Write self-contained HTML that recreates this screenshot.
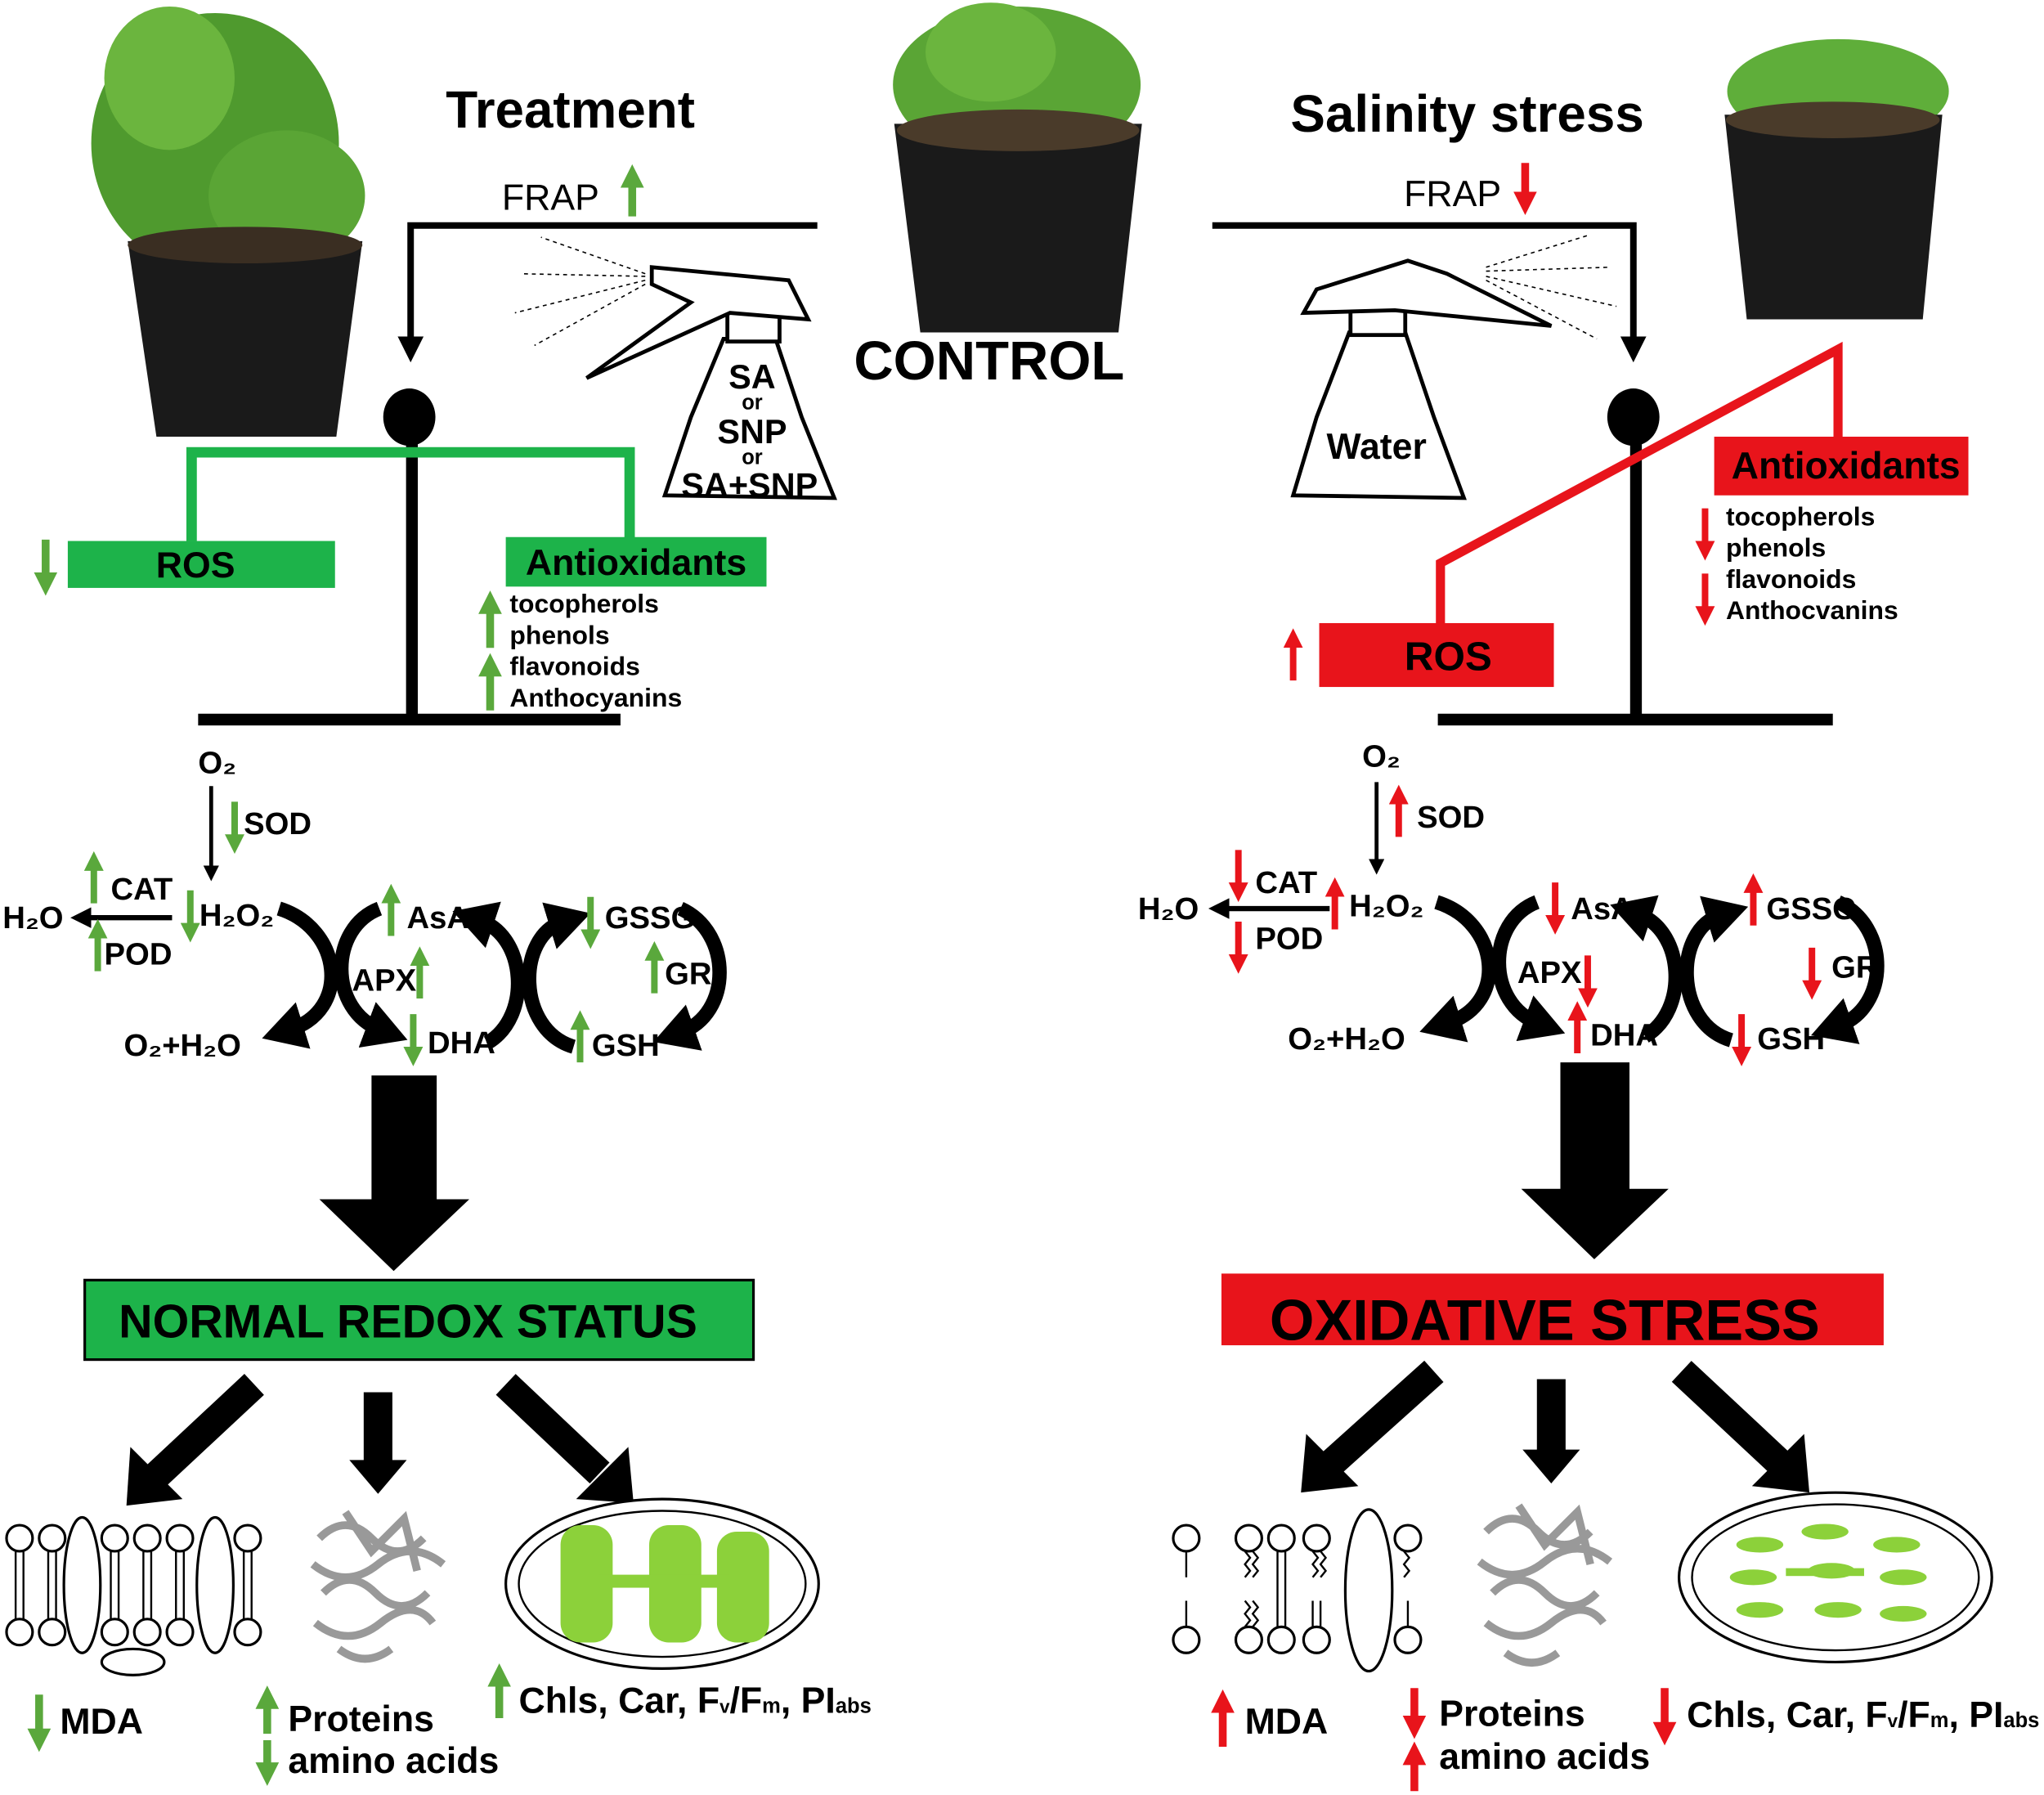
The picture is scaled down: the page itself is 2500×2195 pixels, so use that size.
<!DOCTYPE html>
<html><head><meta charset="utf-8">
<style>
html,body{margin:0;padding:0;background:#fff;}
svg{display:block;}
text{font-family:"Liberation Sans",sans-serif;font-weight:bold;}
</style></head>
<body>
<svg width="2500" height="2195" viewBox="0 0 1568 1377" preserveAspectRatio="none" xmlns="http://www.w3.org/2000/svg">
<defs>
<marker id="ak" markerWidth="4" markerHeight="4" refX="2" refY="2" orient="auto" markerUnits="strokeWidth"><path d="M0,0 L4,2 L0,4 z" fill="#000"/></marker>
<marker id="ab" markerWidth="3" markerHeight="3.4" refX="1" refY="1.7" orient="auto" markerUnits="strokeWidth"><path d="M0,0 L3,1.7 L0,3.4 z" fill="#000"/></marker>
<marker id="ag" markerWidth="3" markerHeight="3" refX="1" refY="1.5" orient="auto" markerUnits="strokeWidth"><path d="M0,0 L3,1.5 L0,3 z" fill="#5aa83c"/></marker>
<marker id="ar" markerWidth="3" markerHeight="3" refX="1" refY="1.5" orient="auto" markerUnits="strokeWidth"><path d="M0,0 L3,1.5 L0,3 z" fill="#e8141b"/></marker>
<g id="cyc" fill="none" stroke="#000" stroke-width="11">
 <path d="M214,697 C262,712 270,775 222,790" marker-end="url(#ab)"/>
 <path d="M291,697 C252,712 252,775 292,790" marker-end="url(#ab)"/>
 <path d="M374,800 C408,780 404,718 368,706" marker-end="url(#ab)"/>
 <path d="M440,803 C396,790 396,718 432,707" marker-end="url(#ab)"/>
 <path d="M522,697 C562,715 562,778 522,792" marker-end="url(#ab)"/>
</g>
<g id="mem" fill="#fff" stroke="#000" stroke-width="2">
</g>
</defs>
<rect width="1568" height="1377" fill="#fff"/>

<!-- Plants -->
<g>
 <ellipse cx="165" cy="110" rx="95" ry="100" fill="#4f9a2e"/>
 <ellipse cx="130" cy="60" rx="50" ry="55" fill="#6bb53e"/>
 <ellipse cx="220" cy="150" rx="60" ry="50" fill="#5aa535"/>
 <path d="M98,185 L278,185 L258,335 L120,335 Z" fill="#1a1a1a"/>
 <ellipse cx="188" cy="188" rx="90" ry="14" fill="#3a2e22"/>
</g>
<g>
 <ellipse cx="780" cy="65" rx="95" ry="60" fill="#5aa535"/>
 <ellipse cx="760" cy="40" rx="50" ry="38" fill="#6bb53e"/>
 <path d="M686,95 L876,95 L858,255 L706,255 Z" fill="#1a1a1a"/>
 <ellipse cx="781" cy="100" rx="93" ry="16" fill="#4a3b2a"/>
</g>
<g>
 <ellipse cx="1410" cy="70" rx="85" ry="40" fill="#5fae3a"/>
 <path d="M1323,88 L1490,88 L1475,245 L1340,245 Z" fill="#1a1a1a"/>
 <ellipse cx="1406" cy="92" rx="82" ry="14" fill="#4a3b2a"/>
</g>

<!-- Titles -->
<text x="342" y="98" font-size="40">Treatment</text>
<text x="990" y="101" font-size="40">Salinity stress</text>
<text x="655" y="291" font-size="42">CONTROL</text>

<!-- Left top connector -->
<text x="385" y="161" font-size="28" style="font-weight:normal">FRAP</text>
<line x1="485" y1="166" x2="485" y2="138" stroke="#5aa83c" stroke-width="6" marker-end="url(#ag)"/>
<polyline points="627,173 315,173 315,268" fill="none" stroke="#000" stroke-width="5" marker-end="url(#ak)"/>

<!-- Right top connector -->
<text x="1077" y="158" font-size="28" style="font-weight:normal">FRAP</text>
<line x1="1170" y1="125" x2="1170" y2="153" stroke="#e8141b" stroke-width="6" marker-end="url(#ar)"/>
<polyline points="930,173 1253,173 1253,268" fill="none" stroke="#000" stroke-width="5" marker-end="url(#ak)"/>

<!-- Spray bottle left -->
<g fill="#fff" stroke="#000" stroke-width="3">
 <path d="M555,260 L530,320 L510,380 L640,382 L615,320 L595,260 Z"/>
 <rect x="558" y="240" width="40" height="22"/>
 <path d="M500,205 L605,215 L620,245 L560,240 L450,290 L530,232 L500,218 Z"/>
</g>
<g stroke="#000" stroke-width="1" stroke-dasharray="3,3">
 <line x1="495" y1="210" x2="415" y2="182"/><line x1="495" y1="212" x2="400" y2="210"/>
 <line x1="495" y1="215" x2="395" y2="240"/><line x1="495" y1="218" x2="410" y2="265"/>
</g>
<text x="577" y="298" font-size="26" text-anchor="middle">SA</text>
<text x="577" y="314" font-size="16" text-anchor="middle">or</text>
<text x="577" y="340" font-size="26" text-anchor="middle">SNP</text>
<text x="577" y="356" font-size="16" text-anchor="middle">or</text>
<text x="575" y="381" font-size="26" text-anchor="middle">SA+SNP</text>

<!-- Spray bottle right -->
<g fill="#fff" stroke="#000" stroke-width="3">
 <path d="M1035,255 L1010,320 L992,380 L1123,382 L1100,320 L1078,255 Z"/>
 <rect x="1036" y="235" width="42" height="22"/>
 <path d="M1080,200 L1010,222 L1000,240 L1070,238 L1190,250 L1110,210 Z"/>
</g>
<g stroke="#000" stroke-width="1" stroke-dasharray="3,3">
 <line x1="1140" y1="205" x2="1220" y2="180"/><line x1="1140" y1="208" x2="1235" y2="205"/>
 <line x1="1140" y1="212" x2="1240" y2="235"/><line x1="1140" y1="215" x2="1225" y2="260"/>
</g>
<text x="1056" y="352" font-size="28" text-anchor="middle">Water</text>

<!-- Left balance -->
<ellipse cx="314" cy="320" rx="20" ry="22" fill="#000"/>
<line x1="316" y1="330" x2="316" y2="552" stroke="#000" stroke-width="9"/>
<line x1="152" y1="552" x2="476" y2="552" stroke="#000" stroke-width="9"/>
<polyline points="147,415 147,347 483,347 483,413" fill="none" stroke="#1db34a" stroke-width="8"/>
<rect x="52" y="415" width="205" height="36" fill="#1db34a"/>
<text x="150" y="443" font-size="28" text-anchor="middle">ROS</text>
<line x1="35" y1="414" x2="35" y2="445" stroke="#5aa83c" stroke-width="6" marker-end="url(#ag)"/>
<rect x="388" y="412" width="200" height="38" fill="#1db34a"/>
<text x="488" y="441" font-size="28" text-anchor="middle">Antioxidants</text>
<g font-size="20"><text x="391" y="470">tocopherols</text><text x="391" y="494">phenols</text><text x="391" y="518">flavonoids</text><text x="391" y="542">Anthocyanins</text></g>
<line x1="376" y1="497" x2="376" y2="465" stroke="#5aa83c" stroke-width="6" marker-end="url(#ag)"/>
<line x1="376" y1="545" x2="376" y2="513" stroke="#5aa83c" stroke-width="6" marker-end="url(#ag)"/>

<!-- Right balance -->
<ellipse cx="1253" cy="320" rx="20" ry="22" fill="#000"/>
<line x1="1255" y1="330" x2="1255" y2="552" stroke="#000" stroke-width="9"/>
<line x1="1103" y1="552" x2="1406" y2="552" stroke="#000" stroke-width="9"/>
<polyline points="1105,480 1105,432 1410,268 1410,337" fill="none" stroke="#e8141b" stroke-width="7"/>
<rect x="1315" y="335" width="195" height="45" fill="#e8141b"/>
<text x="1416" y="367" font-size="29" text-anchor="middle">Antioxidants</text>
<rect x="1012" y="478" width="180" height="49" fill="#e8141b"/>
<text x="1111" y="514" font-size="31" text-anchor="middle">ROS</text>
<line x1="992" y1="522" x2="992" y2="492" stroke="#e8141b" stroke-width="5" marker-end="url(#ar)"/>
<g font-size="20"><text x="1324" y="403">tocopherols</text><text x="1324" y="427">phenols</text><text x="1324" y="451">flavonoids</text><text x="1324" y="475">Anthocvanins</text></g>
<line x1="1308" y1="390" x2="1308" y2="420" stroke="#e8141b" stroke-width="5" marker-end="url(#ar)"/>
<line x1="1308" y1="440" x2="1308" y2="470" stroke="#e8141b" stroke-width="5" marker-end="url(#ar)"/>

<!-- Cycle arcs -->
<use href="#cyc"/>
<use href="#cyc" transform="translate(888,-5)"/>

<!-- Left pathway labels -->
<g font-size="24">
<text x="152" y="593">O₂</text>
<line x1="162" y1="603" x2="162" y2="670" stroke="#000" stroke-width="3" marker-end="url(#ak)"/>
<line x1="180" y1="615" x2="180" y2="645" stroke="#5aa83c" stroke-width="5" marker-end="url(#ag)"/>
<text x="187" y="640">SOD</text>
<line x1="72" y1="693" x2="72" y2="663" stroke="#5aa83c" stroke-width="5" marker-end="url(#ag)"/>
<text x="85" y="690">CAT</text>
<line x1="132" y1="704" x2="62" y2="704" stroke="#000" stroke-width="4" marker-end="url(#ak)"/>
<text x="2" y="712">H₂O</text>
<line x1="75" y1="745" x2="75" y2="715" stroke="#5aa83c" stroke-width="5" marker-end="url(#ag)"/>
<text x="80" y="740">POD</text>
<line x1="146" y1="683" x2="146" y2="713" stroke="#5aa83c" stroke-width="5" marker-end="url(#ag)"/>
<text x="153" y="710">H₂O₂</text>
<text x="95" y="810">O₂+H₂O</text>
<text x="312" y="712">AsA</text>
<line x1="300" y1="718" x2="300" y2="688" stroke="#5aa83c" stroke-width="5" marker-end="url(#ag)"/>
<text x="270" y="760">APX</text>
<line x1="322" y1="766" x2="322" y2="736" stroke="#5aa83c" stroke-width="5" marker-end="url(#ag)"/>
<line x1="317" y1="778" x2="317" y2="808" stroke="#5aa83c" stroke-width="5" marker-end="url(#ag)"/>
<text x="328" y="808">DHA</text>
<line x1="453" y1="688" x2="453" y2="718" stroke="#5aa83c" stroke-width="5" marker-end="url(#ag)"/>
<text x="464" y="712">GSSG</text>
<line x1="502" y1="762" x2="502" y2="732" stroke="#5aa83c" stroke-width="5" marker-end="url(#ag)"/>
<text x="510" y="755">GR</text>
<line x1="445" y1="815" x2="445" y2="785" stroke="#5aa83c" stroke-width="5" marker-end="url(#ag)"/>
<text x="454" y="810">GSH</text>
</g>

<!-- Right pathway labels -->
<g font-size="24">
<text x="1045" y="588">O₂</text>
<line x1="1056" y1="600" x2="1056" y2="665" stroke="#000" stroke-width="3" marker-end="url(#ak)"/>
<line x1="1073" y1="642" x2="1073" y2="612" stroke="#e8141b" stroke-width="5" marker-end="url(#ar)"/>
<text x="1087" y="635">SOD</text>
<line x1="950" y1="652" x2="950" y2="682" stroke="#e8141b" stroke-width="5" marker-end="url(#ar)"/>
<text x="963" y="685">CAT</text>
<line x1="1020" y1="697" x2="935" y2="697" stroke="#000" stroke-width="4" marker-end="url(#ak)"/>
<text x="873" y="705">H₂O</text>
<line x1="950" y1="707" x2="950" y2="737" stroke="#e8141b" stroke-width="5" marker-end="url(#ar)"/>
<text x="963" y="728">POD</text>
<line x1="1024" y1="713" x2="1024" y2="683" stroke="#e8141b" stroke-width="5" marker-end="url(#ar)"/>
<text x="1035" y="703">H₂O₂</text>
<text x="988" y="805">O₂+H₂O</text>
<line x1="1193" y1="677" x2="1193" y2="707" stroke="#e8141b" stroke-width="5" marker-end="url(#ar)"/>
<text x="1205" y="705">AsA</text>
<text x="1164" y="754">APX</text>
<line x1="1218" y1="733" x2="1218" y2="763" stroke="#e8141b" stroke-width="5" marker-end="url(#ar)"/>
<line x1="1210" y1="808" x2="1210" y2="778" stroke="#e8141b" stroke-width="5" marker-end="url(#ar)"/>
<text x="1220" y="802">DHA</text>
<line x1="1345" y1="710" x2="1345" y2="680" stroke="#e8141b" stroke-width="5" marker-end="url(#ar)"/>
<text x="1355" y="705">GSSG</text>
<line x1="1390" y1="727" x2="1390" y2="757" stroke="#e8141b" stroke-width="5" marker-end="url(#ar)"/>
<text x="1405" y="750">GR</text>
<line x1="1336" y1="778" x2="1336" y2="808" stroke="#e8141b" stroke-width="5" marker-end="url(#ar)"/>
<text x="1348" y="805">GSH</text>
</g>

<!-- Big arrows -->
<path d="M285,825 L335,825 L335,920 L360,920 L302,975 L245,920 L285,920 Z" fill="#000"/>
<path d="M1197,815 L1250,815 L1250,912 L1280,912 L1223,966 L1167,912 L1197,912 Z" fill="#000"/>

<!-- Status boxes -->
<rect x="65" y="982" width="513" height="61" fill="#1db34a" stroke="#000" stroke-width="2"/>
<text x="313" y="1026" font-size="36" text-anchor="middle">NORMAL REDOX STATUS</text>
<rect x="937" y="977" width="508" height="55" fill="#e8141b"/>
<text x="1185" y="1028" font-size="44" text-anchor="middle">OXIDATIVE STRESS</text>

<!-- Bottom arrows -->
<g stroke="#000" stroke-width="22" fill="none">
 <line x1="195" y1="1062" x2="120" y2="1132"/>
 <line x1="290" y1="1068" x2="290" y2="1125"/>
 <line x1="388" y1="1062" x2="460" y2="1130"/>
 <line x1="1100" y1="1052" x2="1022" y2="1122"/>
 <line x1="1190" y1="1058" x2="1190" y2="1118"/>
 <line x1="1290" y1="1052" x2="1365" y2="1122"/>
</g>
<g fill="#000">
 <path d="M97,1155 L100,1110 L140,1150 Z"/>
 <path d="M268,1120 L312,1120 L290,1146 Z"/>
 <path d="M486,1153 L482,1110 L442,1150 Z"/>
 <path d="M998,1145 L1002,1100 L1042,1140 Z"/>
 <path d="M1168,1112 L1212,1112 L1190,1138 Z"/>
 <path d="M1388,1145 L1384,1100 L1344,1140 Z"/>
</g>

<!-- Membrane left -->
<g stroke="#000" stroke-width="1.5">
 <line x1="12" y1="1190" x2="12" y2="1242"/><line x1="18" y1="1190" x2="18" y2="1242"/>
 <line x1="37" y1="1190" x2="37" y2="1242"/><line x1="43" y1="1190" x2="43" y2="1242"/>
 <line x1="85" y1="1190" x2="85" y2="1242"/><line x1="91" y1="1190" x2="91" y2="1242"/>
 <line x1="110" y1="1190" x2="110" y2="1242"/><line x1="116" y1="1190" x2="116" y2="1242"/>
 <line x1="135" y1="1190" x2="135" y2="1242"/><line x1="141" y1="1190" x2="141" y2="1242"/>
 <line x1="187" y1="1190" x2="187" y2="1242"/><line x1="193" y1="1190" x2="193" y2="1242"/>
</g>
<g fill="#fff" stroke="#000" stroke-width="2">
 <circle cx="15" cy="1180" r="10"/><circle cx="40" cy="1180" r="10"/><circle cx="88" cy="1180" r="10"/><circle cx="113" cy="1180" r="10"/><circle cx="138" cy="1180" r="10"/><circle cx="190" cy="1180" r="10"/>
 <circle cx="15" cy="1252" r="10"/><circle cx="40" cy="1252" r="10"/><circle cx="88" cy="1252" r="10"/><circle cx="113" cy="1252" r="10"/><circle cx="138" cy="1252" r="10"/><circle cx="190" cy="1252" r="10"/>
 <ellipse cx="63" cy="1216" rx="14" ry="52"/><ellipse cx="165" cy="1216" rx="14" ry="52"/>
 <ellipse cx="102" cy="1275" rx="24" ry="10"/>
</g>
<!-- protein left -->
<g fill="none" stroke="#999" stroke-width="6">
 <path d="M245,1180 q20,-20 40,0 t40,0 M240,1200 q25,20 50,0 t50,0 M248,1222 q20,-20 40,0 t40,0 M242,1245 q25,20 50,0 t40,0 M260,1265 q20,15 40,0 M265,1160 l20,30 l25,-25 l10,40"/>
</g>
<!-- chloroplast left -->
<ellipse cx="508" cy="1215" rx="120" ry="65" fill="#fff" stroke="#000" stroke-width="2"/>
<ellipse cx="508" cy="1215" rx="110" ry="56" fill="none" stroke="#000" stroke-width="1.5"/>
<g fill="#8cd13a">
 <rect x="430" y="1170" width="40" height="90" rx="15"/><rect x="498" y="1170" width="40" height="90" rx="15"/><rect x="550" y="1175" width="40" height="85" rx="15"/>
 <rect x="460" y="1208" width="100" height="10"/>
</g>

<!-- Membrane right -->
<g stroke="#000" stroke-width="1.5" fill="none">
 <line x1="910" y1="1190" x2="910" y2="1210"/><line x1="910" y1="1228" x2="910" y2="1248"/>
 <path d="M955,1190 l4,5 l-4,5 l4,5 l-4,5 M961,1190 l4,5 l-4,5 l4,5 l-4,5"/>
 <path d="M955,1228 l4,5 l-4,5 l4,5 l-4,5 M961,1228 l4,5 l-4,5 l4,5 l-4,5"/>
 <line x1="980" y1="1190" x2="980" y2="1248"/><line x1="986" y1="1190" x2="986" y2="1248"/>
 <path d="M1007,1190 l4,5 l-4,5 l4,5 l-4,5 M1013,1190 l4,5 l-4,5 l4,5 l-4,5"/>
 <line x1="1007" y1="1228" x2="1007" y2="1248"/><line x1="1013" y1="1228" x2="1013" y2="1248"/>
 <path d="M1077,1190 l4,5 l-4,5 l4,5 l-4,5"/><line x1="1080" y1="1228" x2="1080" y2="1248"/>
</g>
<g fill="#fff" stroke="#000" stroke-width="2">
 <circle cx="910" cy="1180" r="10"/><circle cx="958" cy="1180" r="10"/><circle cx="983" cy="1180" r="10"/><circle cx="1010" cy="1180" r="10"/><circle cx="1080" cy="1180" r="10"/>
 <circle cx="910" cy="1258" r="10"/><circle cx="958" cy="1258" r="10"/><circle cx="983" cy="1258" r="10"/><circle cx="1010" cy="1258" r="10"/><circle cx="1080" cy="1258" r="10"/>
 <ellipse cx="1050" cy="1220" rx="18" ry="62"/>
</g>
<g fill="none" stroke="#999" stroke-width="6">
 <path d="M1140,1175 q20,-20 40,0 t40,0 M1135,1198 q25,20 50,0 t50,0 M1145,1222 q20,-20 40,0 t40,0 M1140,1245 q25,20 50,0 t40,0 M1155,1268 q20,15 40,0 M1165,1155 l20,30 l25,-25 l10,40"/>
</g>
<ellipse cx="1408" cy="1210" rx="120" ry="65" fill="#fff" stroke="#000" stroke-width="2"/>
<ellipse cx="1408" cy="1210" rx="110" ry="56" fill="none" stroke="#000" stroke-width="1.5"/>
<g fill="#8cd13a">
 <ellipse cx="1350" cy="1185" rx="18" ry="6"/><ellipse cx="1400" cy="1175" rx="18" ry="6"/><ellipse cx="1455" cy="1185" rx="18" ry="6"/>
 <ellipse cx="1345" cy="1210" rx="18" ry="6"/><ellipse cx="1405" cy="1205" rx="18" ry="6"/><ellipse cx="1460" cy="1210" rx="18" ry="6"/>
 <ellipse cx="1350" cy="1235" rx="18" ry="6"/><ellipse cx="1410" cy="1235" rx="18" ry="6"/><ellipse cx="1460" cy="1238" rx="18" ry="6"/>
 <rect x="1370" y="1203" width="60" height="6"/>
</g>

<!-- Bottom labels left -->
<g font-size="28">
<line x1="30" y1="1300" x2="30" y2="1332" stroke="#5aa83c" stroke-width="6" marker-end="url(#ag)"/>
<text x="46" y="1330">MDA</text>
<line x1="205" y1="1330" x2="205" y2="1305" stroke="#5aa83c" stroke-width="6" marker-end="url(#ag)"/>
<text x="221" y="1328">Proteins</text>
<line x1="205" y1="1335" x2="205" y2="1358" stroke="#5aa83c" stroke-width="6" marker-end="url(#ag)"/>
<text x="221" y="1360">amino acids</text>
<line x1="383" y1="1318" x2="383" y2="1288" stroke="#5aa83c" stroke-width="6" marker-end="url(#ag)"/>
<text x="398" y="1314">Chls, Car, F<tspan font-size="14">v</tspan>/F<tspan font-size="16">m</tspan>, PI<tspan font-size="16">abs</tspan></text>
</g>
<g font-size="28">
<line x1="938" y1="1340" x2="938" y2="1308" stroke="#e8141b" stroke-width="6" marker-end="url(#ar)"/>
<text x="955" y="1330">MDA</text>
<line x1="1085" y1="1295" x2="1085" y2="1322" stroke="#e8141b" stroke-width="6" marker-end="url(#ar)"/>
<text x="1104" y="1324">Proteins</text>
<line x1="1085" y1="1374" x2="1085" y2="1348" stroke="#e8141b" stroke-width="6" marker-end="url(#ar)"/>
<text x="1104" y="1357">amino acids</text>
<line x1="1277" y1="1295" x2="1277" y2="1327" stroke="#e8141b" stroke-width="6" marker-end="url(#ar)"/>
<text x="1294" y="1325">Chls, Car, F<tspan font-size="14">v</tspan>/F<tspan font-size="16">m</tspan>, PI<tspan font-size="16">abs</tspan></text>
</g>
</svg>
</body></html>
